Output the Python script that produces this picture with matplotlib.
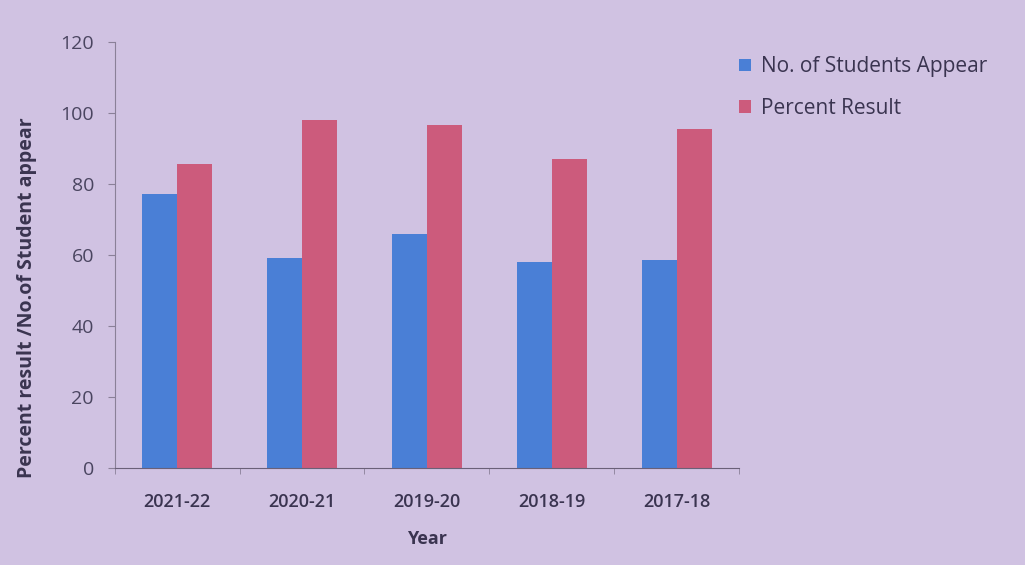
import matplotlib
matplotlib.use("Agg")
import matplotlib.pyplot as plt
import numpy as np

years = ["2021-22", "2020-21", "2019-20", "2018-19", "2017-18"]
students_appear = [77, 59, 66, 58, 58.5]
percent_result = [85.5, 98, 96.5, 87, 95.5]
series_names = ["No. of Students Appear", "Percent Result"]
yticks = [0, 20, 40, 60, 80, 100, 120]

bg = "#d0c2e2"
blue = "#4a7fd6"
red = "#cc5b7c"
txt = "#3a3450"

plt.rcParams['font.family'] = ['Open Sans', 'DejaVu Sans']

fig = plt.figure(figsize=(10.25, 5.65), dpi=100, facecolor=bg)
ax = fig.add_axes([0.112, 0.172, 0.609, 0.754], facecolor=bg)

x = np.arange(len(years))
w = 0.28
ax.bar(x - w/2, students_appear, w, color=blue, label=series_names[0])
ax.bar(x + w/2, percent_result, w, color=red, label=series_names[1])

ax.set_xlim(-0.5, len(years) - 0.5)
ax.set_ylim(0, 120)
ax.set_yticks(yticks)
ax.set_xticks(x)
ax.set_xticklabels(years, fontsize=13, color=txt, fontweight="semibold")
ax.set_xticks(np.arange(len(years) + 1) - 0.5, minor=True)
ax.tick_params(axis='x', which='major', length=0, pad=18)
ax.tick_params(axis='x', which='minor', length=4, color="#8a8098")
ax.tick_params(axis='y', labelsize=14, labelcolor="#4a4560", length=5,
               color="#8a8098", pad=10)

for s in ["top", "right"]:
    ax.spines[s].set_visible(False)
ax.spines["left"].set_color("#8a8098")
ax.spines["bottom"].set_color("#6a6078")

ax.set_xlabel("Year", fontsize=13, fontweight="bold", color=txt, labelpad=14)
ax.set_ylabel("Percent result /No.of Student appear", fontsize=14,
              fontweight="bold", color=txt)
ax.yaxis.set_label_coords(-0.124, 0.40)

leg = ax.legend(loc="upper left", bbox_to_anchor=(0.97, 1.01), frameon=False,
                fontsize=15, handlelength=0.55, handleheight=0.55,
                handletextpad=0.5, labelspacing=1.0, labelcolor=txt)
for t in leg.get_texts():
    t.set_fontweight("medium")

fig.savefig("out.png", dpi=100, facecolor=bg)
